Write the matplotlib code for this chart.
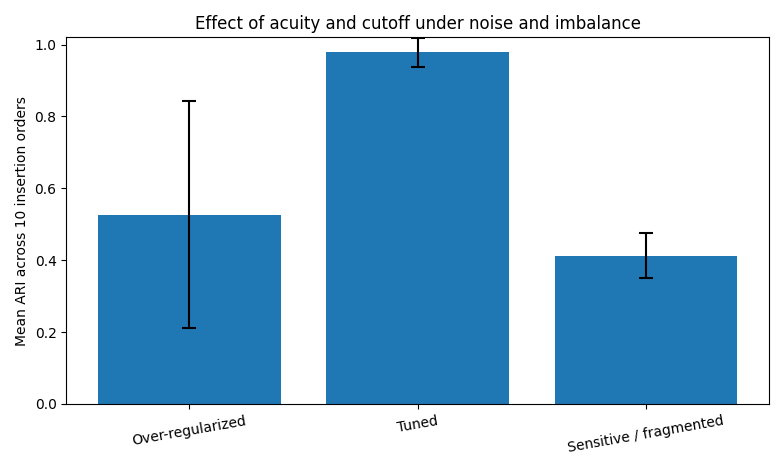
import matplotlib
matplotlib.use("Agg")
import matplotlib.pyplot as plt

categories = ["Over-regularized", "Tuned", "Sensitive / fragmented"]
means = [0.527, 0.978, 0.413]
errors = [0.315, 0.040, 0.062]

fig, ax = plt.subplots(figsize=(7.84, 4.70), dpi=100)
ax.bar(categories, means, yerr=errors, capsize=5, color="#1f77b4",
       error_kw=dict(elinewidth=1.5, capthick=1.5))
ax.set_ylim(0, 1.02)
ax.set_ylabel("Mean ARI across 10 insertion orders")
ax.set_title("Effect of acuity and cutoff under noise and imbalance")
plt.setp(ax.get_xticklabels(), rotation=10)
fig.tight_layout()
fig.savefig("out.png", dpi=100)
